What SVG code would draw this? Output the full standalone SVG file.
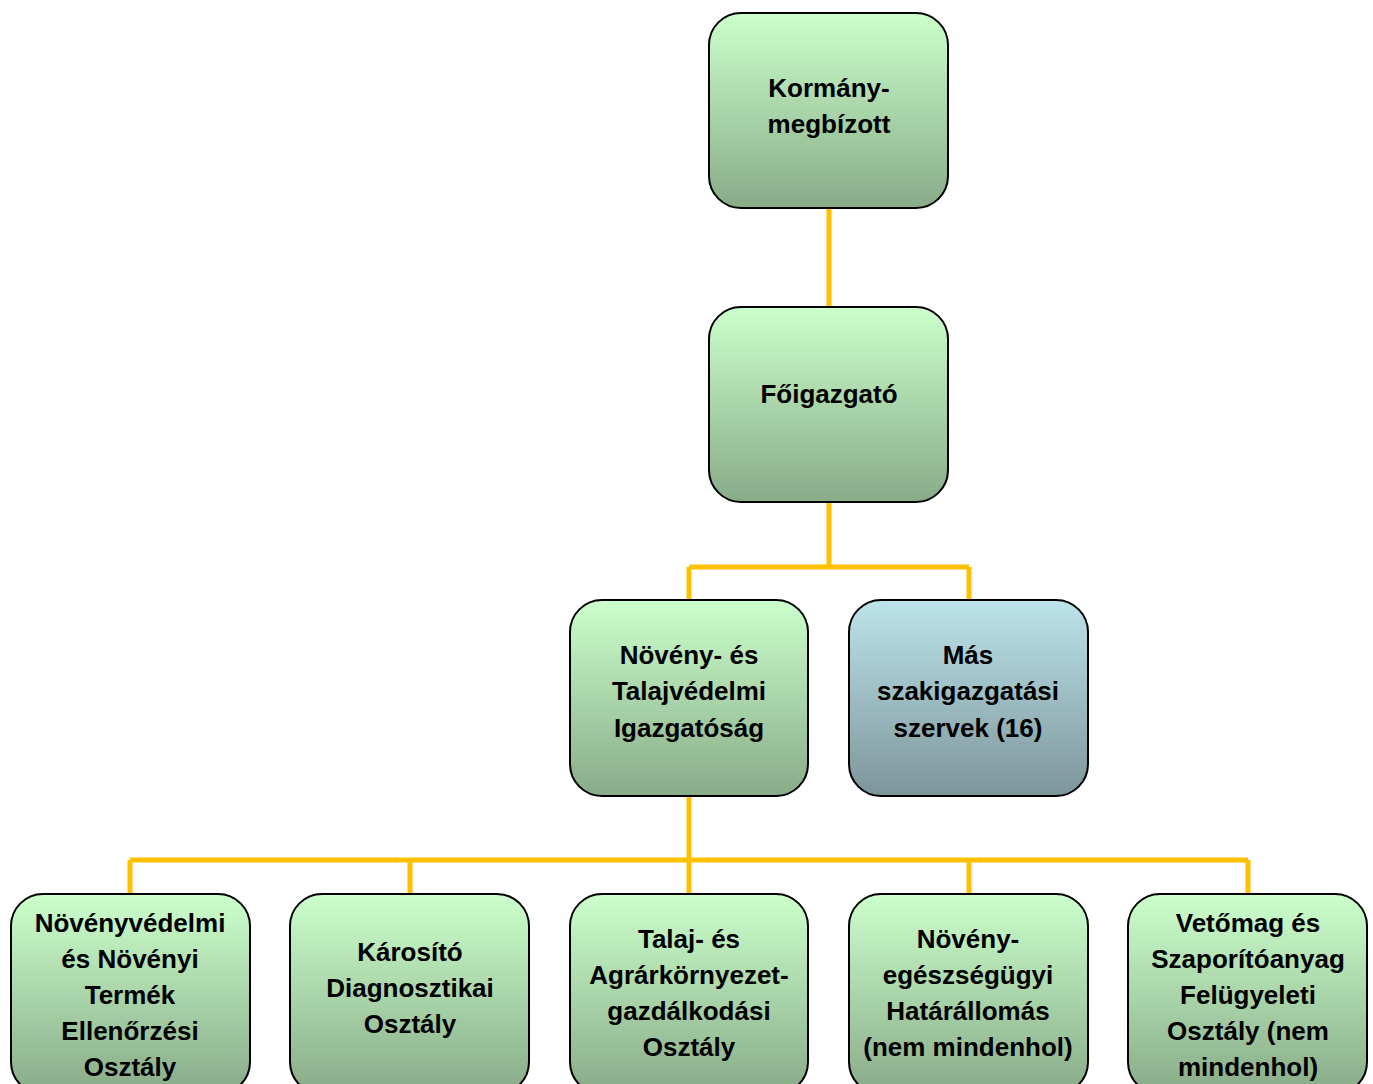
<svg xmlns="http://www.w3.org/2000/svg" width="1373" height="1084" viewBox="0 0 1373 1084">
<defs>
<linearGradient id="g" x1="0" y1="0" x2="0" y2="1">
<stop offset="0" stop-color="#CCFFCC"/>
<stop offset="1" stop-color="#88AB88"/>
</linearGradient>
<linearGradient id="b" x1="0" y1="0" x2="0" y2="1">
<stop offset="0" stop-color="#BCE4EA"/>
<stop offset="1" stop-color="#7D959A"/>
</linearGradient>
</defs>
<style>
.n rect{stroke:#000;stroke-width:2}
.n text{font-family:"Liberation Sans",Arial,sans-serif;font-weight:bold;font-size:26px;fill:#000;text-anchor:middle}
.c{stroke:#FFC000;stroke-width:5;fill:none}
</style>
<rect width="1373" height="1084" fill="#fff"/>
<g id="connectors" class="c">
<path d="M829 208V307"/>
<path d="M829 502V567M689 567H969M689 567V600M969 567V600"/>
<path d="M689 796V860M130 860H1248M130 860V894M410 860V894M689 860V894M969 860V894M1248 860V894"/>
</g>
<g id="n1" class="n"><rect x="709" y="13" width="239" height="195" rx="32" fill="url(#g)"/>
<text x="829" y="97">Kormány-</text><text x="829" y="133">megbízott</text></g>
<g id="n2" class="n"><rect x="709" y="307" width="239" height="195" rx="32" fill="url(#g)"/>
<text x="829" y="403">Főigazgató</text></g>
<g id="n3" class="n"><rect x="570" y="600" width="238" height="196" rx="32" fill="url(#g)"/>
<text x="689" y="664">Növény- és</text><text x="689" y="700">Talajvédelmi</text><text x="689" y="737">Igazgatóság</text></g>
<g id="n4" class="n"><rect x="849" y="600" width="239" height="196" rx="32" fill="url(#b)"/>
<text x="968" y="664">Más</text><text x="968" y="700">szakigazgatási</text><text x="968" y="737">szervek (16)</text></g>
<g id="n5" class="n"><rect x="11" y="894" width="239" height="200" rx="32" fill="url(#g)"/>
<text x="130" y="932">Növényvédelmi</text><text x="130" y="968">és Növényi</text><text x="130" y="1004">Termék</text><text x="130" y="1040">Ellenőrzési</text><text x="130" y="1076">Osztály</text></g>
<g id="n6" class="n"><rect x="290" y="894" width="239" height="200" rx="32" fill="url(#g)"/>
<text x="410" y="961">Károsító</text><text x="410" y="997">Diagnosztikai</text><text x="410" y="1033">Osztály</text></g>
<g id="n7" class="n"><rect x="570" y="894" width="238" height="200" rx="32" fill="url(#g)"/>
<text x="689" y="948">Talaj- és</text><text x="689" y="984">Agrárkörnyezet-</text><text x="689" y="1020">gazdálkodási</text><text x="689" y="1056">Osztály</text></g>
<g id="n8" class="n"><rect x="849" y="894" width="239" height="200" rx="32" fill="url(#g)"/>
<text x="968" y="948">Növény-</text><text x="968" y="984">egészségügyi</text><text x="968" y="1020">Határállomás</text><text x="968" y="1056">(nem mindenhol)</text></g>
<g id="n9" class="n"><rect x="1128" y="894" width="239" height="200" rx="32" fill="url(#g)"/>
<text x="1248" y="932">Vetőmag és</text><text x="1248" y="968">Szaporítóanyag</text><text x="1248" y="1004">Felügyeleti</text><text x="1248" y="1040">Osztály (nem</text><text x="1248" y="1076">mindenhol)</text></g>
</svg>
